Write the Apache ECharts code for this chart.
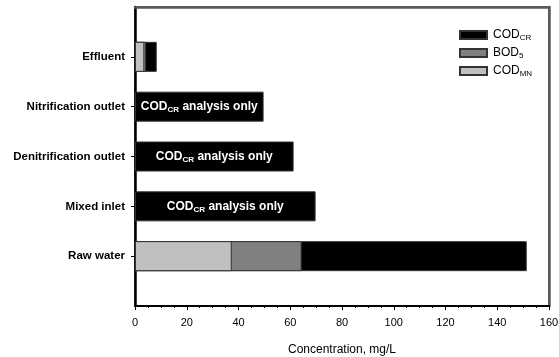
<!DOCTYPE html>
<html>
<head>
<meta charset="utf-8">
<script src="https://cdn.jsdelivr.net/npm/echarts@6/dist/echarts.min.js"></script>
<style>html,body{margin:0;padding:0;background:#fff;}#c{width:559px;height:357px;}</style>
</head>
<body>
<div id="c"></div>
<script>
var categories = ['', 'Raw water', 'Mixed inlet', 'Denitrification outlet', 'Nitrification outlet', 'Effluent', ''];
var codCr = [null, 151.4, 69.8, 61.3, 49.7, 8.4, null];
var bod5 = [null, 64.4, null, null, null, 4.3, null];
var codMn = [null, 37.4, null, null, null, 3.6, null];
var crOnly = [false, false, true, true, true, false, false];
var xTicks = [0, 20, 40, 60, 80, 100, 120, 140, 160];
var seriesNames = ['COD_CR', 'BOD5', 'COD_MN'];
var legendText = {'COD_CR': '{m|COD}{s|CR}', 'BOD5': '{m|BOD}{s|5}', 'COD_MN': '{m|COD}{s|MN}'};

var FONT = '"Liberation Sans", Arial, sans-serif';
var chart = echarts.init(document.getElementById('c'), null, {renderer: 'canvas'});

var crData = codCr.map(function (v, i) {
  if (crOnly[i]) {
    return {value: v, label: {show: true, position: 'inside',
      formatter: '{b1|COD}{s1|CR}{b1| analysis only}',
      rich: {
        b1: {color: '#fff', fontWeight: 'bold', fontSize: 12, fontFamily: FONT},
        s1: {color: '#fff', fontWeight: 'bold', fontSize: 8, fontFamily: FONT, padding: [6, 0, 0, 0]}
      }}};
  }
  return v;
});

var border = {borderColor: '#333', borderWidth: 1};

chart.setOption({
  animation: false,
  textStyle: {fontFamily: FONT},
  grid: {left: 135, right: 10, top: 7, bottom: 51, containLabel: false, outerBoundsMode: 'none',
         show: true, borderColor: '#5a5a5a', borderWidth: 2, backgroundColor: 'rgba(255,255,255,0)'},
  legend: {
    orient: 'vertical', left: 454, top: 24, itemWidth: 27, itemHeight: 8, itemGap: 5,
    icon: 'rect', data: seriesNames,
    formatter: function (n) { return legendText[n]; },
    textStyle: {color: '#000', fontFamily: FONT, padding: [0, 0, 0, 1], rich: {
      m: {fontSize: 12, color: '#000', fontFamily: FONT},
      s: {fontSize: 8, color: '#000', fontFamily: FONT, padding: [6, 0, 0, 0]}
    }}
  },
  xAxis: [{
    type: 'value', min: xTicks[0], max: xTicks[xTicks.length - 1], interval: 20,
    name: 'Concentration, mg/L', nameLocation: 'middle', nameGap: 38,
    nameTextStyle: {fontSize: 12, color: '#000', fontFamily: FONT},
    axisLine: {show: true, onZero: false, lineStyle: {color: '#000', width: 2}},
    axisTick: {show: true, length: 4, lineStyle: {color: '#000'}},
    minorTick: {show: true, splitNumber: 4, length: 2, lineStyle: {color: '#000'}},
    axisLabel: {color: '#000', fontSize: 11, margin: 11, fontFamily: FONT},
    splitLine: {show: false}
  }, {
    type: 'value', position: 'top', min: xTicks[0], max: xTicks[xTicks.length - 1], interval: 20,
    axisLine: {show: true, onZero: false, lineStyle: {color: '#5a5a5a', width: 2.5}},
    axisTick: {show: true, length: 0}, axisLabel: {show: false}, splitLine: {show: false}
  }],
  yAxis: [{
    type: 'category', data: categories, boundaryGap: false,
    axisLine: {show: true, onZero: false, lineStyle: {color: '#000', width: 2.5}},
    axisTick: {show: true, length: 4, interval: function (i) { return i > 0 && i < categories.length - 1; }, lineStyle: {color: '#000'}},
    axisLabel: {color: '#000', fontSize: 11.5, fontWeight: 'bold', margin: 10, fontFamily: FONT, interval: 0},
    splitLine: {show: false}
  }, {
    type: 'category', data: categories, boundaryGap: false, position: 'right',
    axisLine: {show: true, onZero: false, lineStyle: {color: '#5a5a5a', width: 2.5}},
    axisTick: {show: true, length: 0}, axisLabel: {show: false}, splitLine: {show: false}
  }],
  series: [
    {name: seriesNames[0], type: 'bar', data: crData, barWidth: 30, barGap: '-100%',
     itemStyle: Object.assign({color: '#000000'}, border)},
    {name: seriesNames[1], type: 'bar', data: bod5, barWidth: 30, barGap: '-100%',
     itemStyle: Object.assign({color: '#808080'}, border)},
    {name: seriesNames[2], type: 'bar', data: codMn, barWidth: 30, barGap: '-100%',
     itemStyle: Object.assign({color: '#c0c0c0'}, border)}
  ]
});
</script>
</body>
</html>
